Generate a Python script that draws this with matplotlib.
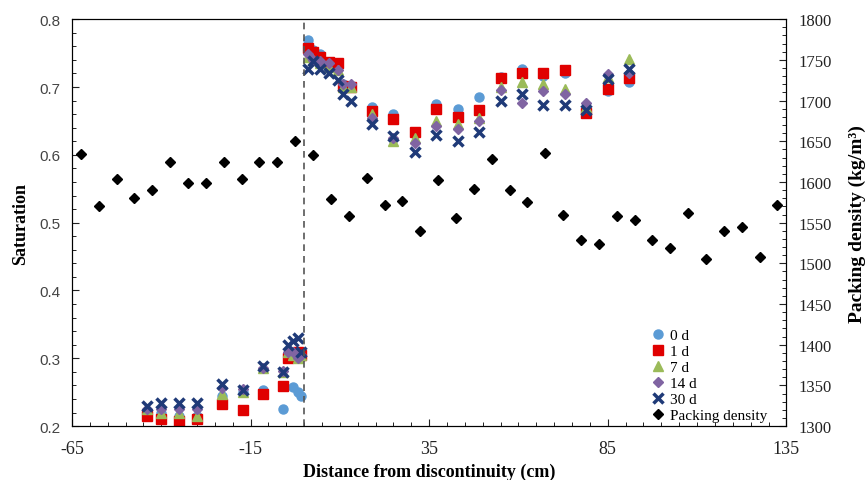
import matplotlib
matplotlib.use("Agg")
import matplotlib.pyplot as plt
from matplotlib.ticker import MultipleLocator, FixedLocator

# saturation measurements, left of the discontinuity (cm)
x_left = [-44, -40, -35, -30, -23, -17, -11.5, -6, -4.5, -3, -1.8, -0.8]
sat_left_0d = [0.220, 0.220, 0.215, 0.215, 0.245, 0.250, 0.253, 0.225, 0.300, 0.257, 0.251, 0.245]
sat_left_1d = [0.215, 0.211, 0.208, 0.210, 0.233, 0.224, 0.248, 0.259, 0.300, 0.305, 0.310, 0.305]
sat_left_7d = [0.225, 0.220, 0.220, 0.215, 0.247, 0.251, 0.285, 0.280, 0.310, 0.305, 0.300, 0.305]
sat_left_14d = [0.225, 0.225, 0.225, 0.225, 0.256, 0.255, 0.285, 0.282, 0.310, 0.310, 0.300, 0.305]
sat_left_30d = [0.230, 0.234, 0.234, 0.234, 0.262, 0.254, 0.288, 0.280, 0.320, 0.325, 0.330, 0.310]

# saturation measurements, right of the discontinuity (cm)
x_right = [1, 2.5, 4.5, 7, 9.5, 11, 13, 19, 25, 31, 37, 43, 49, 55, 61, 67, 73, 79, 85, 91]
sat_right_0d = [0.770, 0.755, 0.748, 0.735, 0.730, 0.705, 0.700, 0.671, 0.660, 0.630, 0.675, 0.668,
                0.685, 0.715, 0.726, 0.716, 0.720, 0.665, 0.694, 0.707]
sat_right_1d = [0.758, 0.752, 0.745, 0.737, 0.735, 0.702, 0.700, 0.665, 0.653, 0.634, 0.667, 0.656,
                0.666, 0.713, 0.720, 0.721, 0.725, 0.662, 0.697, 0.714]
sat_right_7d = [0.745, 0.740, 0.735, 0.730, 0.725, 0.700, 0.700, 0.660, 0.620, 0.625, 0.650, 0.645,
                0.655, 0.700, 0.707, 0.705, 0.697, 0.670, 0.715, 0.741]
sat_right_14d = [0.748, 0.740, 0.738, 0.736, 0.725, 0.705, 0.705, 0.655, 0.625, 0.618, 0.643, 0.638,
                 0.650, 0.695, 0.677, 0.694, 0.690, 0.677, 0.719, 0.720]
sat_right_30d = [0.726, 0.739, 0.726, 0.721, 0.711, 0.689, 0.680, 0.646, 0.628, 0.604, 0.629, 0.621,
                 0.634, 0.680, 0.689, 0.674, 0.674, 0.666, 0.712, 0.726]

# packing density (kg/m3) every 5 cm
x_density = [-62.5 + 5 * i for i in range(40)]
density = [1634, 1570, 1604, 1580, 1590, 1624, 1599, 1599, 1624, 1604,
           1624, 1624, 1650, 1633, 1579, 1558, 1605, 1572, 1577, 1540,
           1603, 1556, 1591, 1628, 1590, 1575, 1635, 1560, 1529, 1524,
           1558, 1553, 1529, 1519, 1562, 1505, 1540, 1545, 1508, 1572]

x_ticks = [-65, -15, 35, 85, 135]

series = [
    ("0 d", sat_left_0d, sat_right_0d, "o", "#5B9BD5", 6.5),
    ("1 d", sat_left_1d, sat_right_1d, "s", "#E00000", 6.5),
    ("7 d", sat_left_7d, sat_right_7d, "^", "#9BBB59", 7),
    ("14 d", sat_left_14d, sat_right_14d, "D", "#8064A2", 5),
]

plt.rcParams["font.family"] = ["Liberation Serif", "DejaVu Serif"]
plt.rcParams["font.size"] = 11
plt.rcParams["axes.unicode_minus"] = False

fig = plt.figure(figsize=(8.67, 4.81), dpi=100)
ax = fig.add_axes([0.083, 0.112, 0.824, 0.846])
ax2 = ax.twinx()

handles = []
for label, left, right, marker, color, ms in series:
    h, = ax.plot(x_left + x_right, left + right, linestyle="none", marker=marker,
                 color=color, markersize=ms, label=label)
    handles.append(h)
h30, = ax.plot(x_left + x_right, sat_left_30d + sat_right_30d, linestyle="none", marker="x",
               color="#1F3A78", markersize=7.5, markeredgewidth=2.5, label="30 d")
handles.append(h30)

hd, = ax2.plot(x_density, density, linestyle="none", marker="D", color="black",
               markersize=5, label="Packing density")
handles.append(hd)

ax.axvline(0, color="#555555", linestyle="--", linewidth=1.2, dashes=(4, 3))

ax.set_xlim(-65, 135)
ax.set_ylim(0.2, 0.8)
ax2.set_ylim(1300, 1800)

ax.xaxis.set_major_locator(FixedLocator(x_ticks))
ax.xaxis.set_minor_locator(MultipleLocator(5))
ax.yaxis.set_major_locator(MultipleLocator(0.1))
ax.yaxis.set_minor_locator(MultipleLocator(0.02))
ax2.yaxis.set_major_locator(MultipleLocator(50))
ax2.yaxis.set_minor_locator(MultipleLocator(10))
ax.yaxis.set_major_formatter(plt.FuncFormatter(lambda v, p: f"{v:.1f}"))

ax.tick_params(which="both", direction="in", top=False)
ax.tick_params(which="major", length=5, colors="#222222")
ax.tick_params(which="minor", length=3)
ax.tick_params(axis="x", pad=10, labelsize=13)
ax.tick_params(axis="y", pad=8, labelsize=11, labelfontfamily="Liberation Sans", labelcolor="#444444")
ax2.tick_params(which="both", direction="in")
ax2.tick_params(which="major", length=5, labelsize=12, colors="#222222", pad=9)
ax2.tick_params(which="minor", length=3)

ax.set_xlabel("Distance from discontinuity (cm)", fontweight="bold", fontsize=13, labelpad=4)
ax.set_ylabel("Saturation", fontweight="bold", fontsize=13, labelpad=8)
ax2.set_ylabel("Packing density (kg/m³)", fontweight="bold", fontsize=14, labelpad=12)

ax2.legend(handles=handles, loc="lower right", bbox_to_anchor=(0.99, -0.02), frameon=False,
           handletextpad=0.2, labelspacing=0.15, handlelength=1.2, fontsize=11, borderpad=0.3)

fig.savefig("out.png", dpi=100)
